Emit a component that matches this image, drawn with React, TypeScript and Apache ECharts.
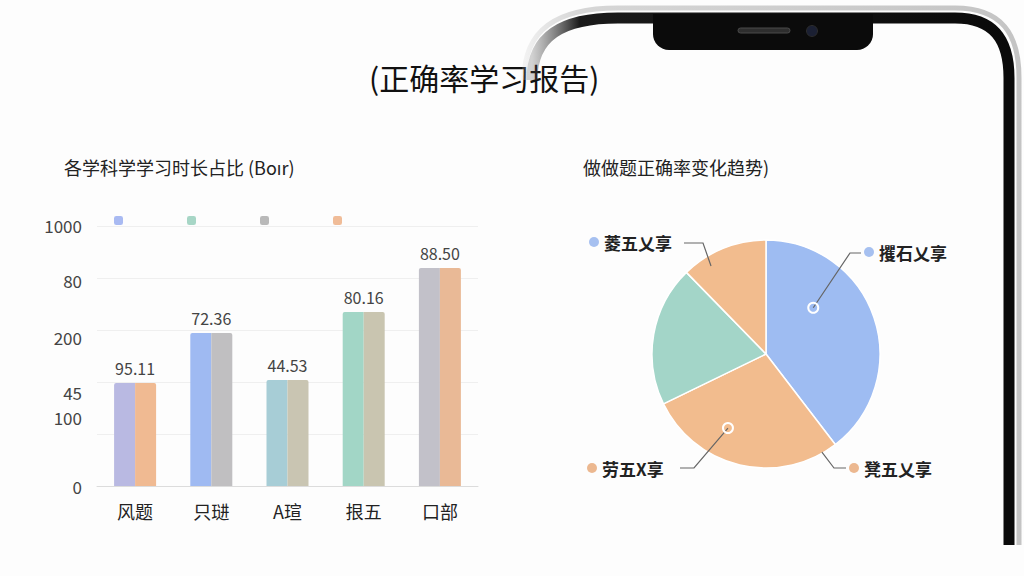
import React, { useEffect, useRef } from 'react';
import * as echarts from 'echarts';

// ---------- data ----------
const mainTitle = '(正确率学习报告)';
const barTitle = '各学科学学习时长占比 (Boır)';
const pieTitle = '做做题正确率变化趋势)';

const categories = ['风题', '只琎', 'A瑄', '拫五', '口部'];
const barValues = [39.6, 58.8, 40.8, 66.9, 83.8];
const barLabels = ['95.11', '72.36', '44.53', '80.16', '88.50'];
const barColorsA = ['#b9b9e2', '#9fbaf2', '#a7cdd6', '#a2d6c6', '#c2c1c9'];
const barColorsB = ['#f0ba92', '#c0bfc1', '#c9c5b2', '#c9c5b0', '#e9b996'];

const yTickValues = [0, 20, 40, 60, 80, 100];
const yTickLabels = ['0', '100', '45', '200', '80', '1000'];

const legendNames = ['系列一', '系列二', '系列三', '系列四'];
const legendColors = ['#a9baf2', '#a7d6c6', '#b9b9b9', '#f0bc98'];

const pieNames = ['攫石乂享', '凳五乂享', '劳五X享', '菱五乂享'];
const pieValues = [39.6, 28.2, 19.9, 12.3];
const pieColors = ['#9ebcf2', '#f2bc8e', '#a3d5c8', '#f2bc8e'];
const pieDotColors = ['#a6c0f0', '#ecb890', '#ecb890', '#a6c0f0'];

// ---------- layout ----------
const FONT = "'Noto Sans CJK SC', 'Noto Sans', sans-serif";
const PIE_CX = 766;
const PIE_CY = 354;
const PIE_R = 114;

// y-label vertical nudges (px), per tick
const yLabelShift = [0, -17, 10, 7, 2, -1];

// leader line layout per pie item
const leaderSpecs = [
  { ang: 45.6, rf: 0.58, ring: true, bend: [850, 253], end: [861, 253], lx: 864, ly: 252 },
  { ang: 150.3, rf: 0.99, ring: false, bend: [834, 468], end: [846, 468], lx: 849, ly: 468 },
  { ang: 207.2, rf: 0.73, ring: true, bend: [694, 468], end: [680, 468], lx: 587, ly: 468 },
  { ang: 328, rf: 0.91, ring: false, bend: [703, 243], end: [684, 243], lx: 589, ly: 242 },
];

const polar = (angDeg: number, rf: number) => {
  const a = (angDeg * Math.PI) / 180;
  return [PIE_CX + PIE_R * rf * Math.sin(a), PIE_CY - PIE_R * rf * Math.cos(a)];
};

let registered = false;
function registerShapes() {
  if (registered) return;
  registered = true;
  echarts.graphic.registerShape(
    'phoneFrame',
    echarts.graphic.extendPath('M 532 80 C 532 36 562 18 618 18 L 955 18 C 994 18 1009 40 1009 78 L 1009 545', {})
  );
  echarts.graphic.registerShape(
    'phoneRim',
    echarts.graphic.extendPath('M 524 80 C 524 30 556 8 618 8 L 955 8 C 1002 8 1019 34 1019 78 L 1019 545', {})
  );
}

export default function App() {
  const ref = useRef<HTMLDivElement>(null);

  useEffect(() => {
    if (!ref.current) return;
    registerShapes();
    const chart = echarts.init(ref.current, null, { renderer: 'svg' });

    const yRich: any = {};
    yTickValues.forEach((_, i) => {
      const s = yLabelShift[i];
      yRich['s' + i] = {
        fontSize: 17,
        color: '#444',
        fontFamily: FONT,
        padding: s >= 0 ? [2 * s, 0, 0, 0] : [0, 0, -2 * s, 0],
      };
    });

    const pieRich: any = {
      t: { fontSize: 17, fontWeight: 'bold', color: '#222', fontFamily: FONT, padding: [0, 0, 0, 5] },
    };
    pieDotColors.forEach((c, i) => {
      pieRich['d' + i] = { width: 10, height: 10, borderRadius: 5, backgroundColor: c };
    });

    const leaderGraphics = leaderSpecs.map((s) => ({
      type: 'polyline',
      z: 99,
      silent: true,
      shape: { points: [polar(s.ang, s.rf), s.bend, s.end] },
      style: { fill: 'none', stroke: '#666', lineWidth: 1.2 },
    }));

    const ringGraphics = leaderSpecs
      .filter((s) => s.ring)
      .map((s) => {
        const [x, y] = polar(s.ang, s.rf);
        return {
          type: 'circle',
          z: 100,
          shape: { cx: x, cy: y, r: 5 },
          style: { fill: 'rgba(0,0,0,0)', stroke: '#ffffff', lineWidth: 2 },
          silent: true,
        };
      });

    const option: any = {
      animation: false,
      backgroundColor: '#fdfdfd',
      textStyle: { fontFamily: FONT },
      title: [
        {
          text: mainTitle,
          left: 364,
          top: 57,
          textStyle: { fontSize: 30, fontWeight: 'normal', color: '#111', fontFamily: FONT },
        },
        {
          text: barTitle,
          left: 59,
          top: 153,
          textStyle: { fontSize: 18, fontWeight: 'normal', color: '#222', fontFamily: FONT },
        },
        {
          text: pieTitle,
          left: 578,
          top: 153,
          textStyle: { fontSize: 18, fontWeight: 'normal', color: '#222', fontFamily: FONT },
        },
      ],
      legend: {
        data: legendNames,
        left: 109,
        top: 211,
        itemWidth: 9,
        itemHeight: 9,
        itemGap: 64,
        icon: 'roundRect',
        selectedMode: false,
        formatter: () => '',
      },
      grid: { left: 97, right: 546, top: 226, bottom: 90 },
      xAxis: {
        type: 'category',
        data: categories,
        axisLine: { lineStyle: { color: '#dcdcdc' } },
        axisTick: { show: false },
        axisLabel: { fontSize: 18, color: '#222', margin: 16, fontFamily: FONT },
      },
      yAxis: {
        type: 'value',
        min: 0,
        max: 100,
        interval: 20,
        axisLine: { show: false },
        axisTick: { show: false },
        splitLine: { lineStyle: { color: '#efefef' } },
        axisLabel: {
          margin: 15,
          formatter: (v: number) => {
            const i = yTickValues.indexOf(v);
            return i < 0 ? '' : `{s${i}|${yTickLabels[i]}}`;
          },
          rich: yRich,
        },
      },
      series: [
        {
          type: 'bar',
          name: 'A',
          data: barValues.map((v, i) => ({ value: v, itemStyle: { color: barColorsA[i] } })),
          barWidth: 21,
          barGap: '0%',
          itemStyle: { borderRadius: [2, 0, 0, 0] },
          label: {
            show: true,
            position: 'top',
            distance: 7,
            offset: [10.5, 0],
            formatter: (p: any) => barLabels[p.dataIndex],
            fontSize: 16,
            color: '#444',
            fontFamily: FONT,
          },
          silent: true,
        },
        {
          type: 'bar',
          name: 'B',
          data: barValues.map((v, i) => ({ value: v, itemStyle: { color: barColorsB[i] } })),
          barWidth: 21,
          barGap: '0%',
          itemStyle: { borderRadius: [0, 2, 0, 0] },
          silent: true,
        },
        ...legendNames.map((n, i) => ({
          type: 'line',
          name: n,
          data: [],
          itemStyle: { color: legendColors[i] },
          lineStyle: { color: legendColors[i] },
        })),
        {
          type: 'pie',
          center: [PIE_CX, PIE_CY],
          radius: PIE_R,
          startAngle: 90,
          clockwise: true,
          silent: true,
          data: pieNames.map((n, i) => ({ name: n, value: pieValues[i], itemStyle: { color: pieColors[i] } })),
          itemStyle: { borderColor: '#ffffff', borderWidth: 1.5 },
          label: {
            show: true,
            formatter: (p: any) => `{d${p.dataIndex}|}{t|${p.name}}`,
            rich: pieRich,
          },
          labelLine: { show: false },
          labelLayout: (p: any) => {
            const s = leaderSpecs[p.dataIndex];
            return { x: s.lx, y: s.ly, align: 'left', verticalAlign: 'middle' };
          },
        },
      ],
      graphic: [
        ...leaderGraphics,
        ...ringGraphics,
        {
          type: 'phoneRim',
          z: 90,
          silent: true,
          style: {
            fill: 'none',
            stroke: {
              type: 'linear', x: 0, y: 0, x2: 1, y2: 0,
              colorStops: [
                { offset: 0, color: 'rgba(200,200,200,0.2)' },
                { offset: 0.12, color: '#d6d6d6' },
                { offset: 1, color: '#c4c4c4' },
              ],
            },
            lineWidth: 5,
          },
        },
        {
          type: 'phoneFrame',
          z: 91,
          silent: true,
          style: {
            fill: 'none',
            stroke: {
              type: 'linear', x: 0, y: 0, x2: 1, y2: 0,
              colorStops: [
                { offset: 0, color: 'rgba(80,80,80,0.25)' },
                { offset: 0.1, color: '#1a1a1a' },
                { offset: 1, color: '#0a0a0a' },
              ],
            },
            lineWidth: 11,
          },
        },
        {
          type: 'rect',
          z: 92,
          silent: true,
          shape: { x: 653, y: 14, width: 220, height: 36, r: [0, 0, 16, 16] },
          style: { fill: '#0b0b0b' },
        },
        {
          type: 'rect',
          z: 93,
          silent: true,
          shape: { x: 738, y: 28, width: 52, height: 5, r: 2.5 },
          style: { fill: '#2e2e2e', stroke: '#4a4a4a', lineWidth: 1 },
        },
        {
          type: 'circle',
          z: 93,
          silent: true,
          shape: { cx: 812, cy: 31, r: 5.5 },
          style: { fill: '#1b2033', stroke: '#2c2c2c', lineWidth: 1 },
        },
      ],
    };

    chart.setOption(option);
    return () => chart.dispose();
  }, []);

  return (
    <div
      ref={ref}
      style={{ position: 'absolute', left: 0, top: 0, width: 1024, height: 576 }}
    />
  );
}
